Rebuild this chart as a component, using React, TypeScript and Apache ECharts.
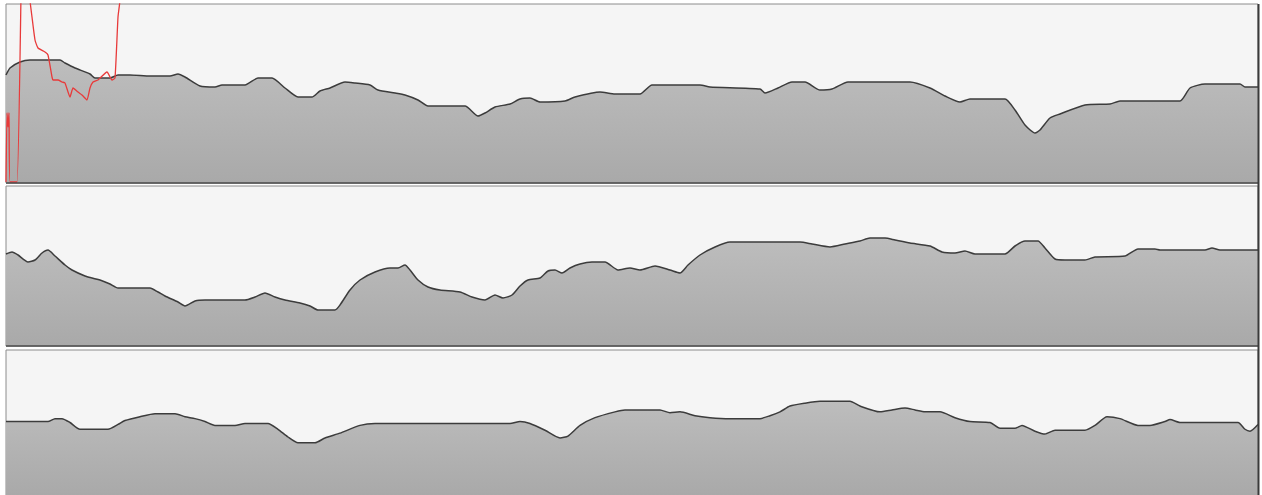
import React, { useEffect, useRef } from "react";
import * as echarts from "echarts";

// Panel 1 (top): grey level series
const t1 = [0, 4, 14, 24, 54, 59, 69, 84, 89, 104, 112, 124, 144, 164, 172, 179, 194, 209, 216, 239, 252, 266, 279, 292, 306, 314, 324, 339, 349, 364, 372, 389, 399, 412, 422, 459, 472, 479, 489, 504, 514, 524, 534, 559, 569, 594, 609, 634, 646, 694, 704, 754, 759, 772, 786, 799, 814, 826, 842, 904, 924, 939, 954, 964, 999, 1009, 1019, 1029, 1034, 1044, 1054, 1079, 1104, 1114, 1174, 1184, 1199, 1234, 1239, 1252];
const v1 = [107, 114, 120, 122, 122, 119, 114, 108, 104, 104, 107, 107, 106, 106, 108, 105, 96, 95, 97, 97, 104, 104, 94, 85, 85, 91, 94, 100, 99, 97, 92, 89, 87, 82, 76, 76, 66, 69, 75, 78, 83, 84, 80, 81, 85, 90, 88, 88, 97, 97, 95, 93, 89, 94, 100, 100, 92, 93, 100, 100, 94, 86, 80, 83, 83, 72, 57, 49, 52, 64, 68, 77, 78, 81, 81, 94, 98, 98, 95, 95];

// Panel 1 (top): red series (runs off the top)
const tRed = [0, 1, 2, 3, 4, 11, 16, 17, 23, 24, 26, 29, 32, 39, 42, 46, 47, 52, 56, 59, 64, 67, 72, 76, 81, 84, 87, 92, 101, 106, 109, 112, 114, 116];
const vRed = [0, 69, 55, 69, 0, 0, 250, 260, 240, 182, 165, 142, 134, 130, 127, 105, 102, 102, 100, 99, 85, 94, 90, 87, 82, 94, 100, 102, 110, 102, 104, 165, 182, 250];

// Panel 2 (middle)
const t2 = [0, 6, 12, 22, 29, 36, 42, 49, 59, 66, 79, 86, 94, 104, 112, 144, 152, 159, 172, 179, 189, 199, 239, 249, 259, 269, 279, 294, 304, 312, 329, 334, 344, 354, 369, 384, 392, 399, 404, 412, 422, 434, 454, 466, 479, 489, 497, 506, 514, 522, 534, 542, 549, 556, 564, 574, 586, 599, 612, 624, 634, 649, 664, 674, 682, 694, 709, 724, 794, 806, 824, 839, 854, 864, 879, 889, 904, 924, 936, 949, 959, 969, 999, 1009, 1019, 1032, 1039, 1049, 1059, 1079, 1089, 1119, 1132, 1149, 1154, 1199, 1206, 1214, 1252];
const v2 = [90, 92, 89, 82, 84, 91, 94, 88, 79, 74, 68, 66, 64, 60, 56, 56, 52, 48, 42, 38, 43, 44, 44, 47, 51, 47, 44, 41, 38, 34, 34, 39, 54, 64, 72, 76, 76, 79, 74, 64, 57, 54, 52, 47, 44, 49, 46, 49, 58, 64, 66, 73, 74, 71, 76, 80, 82, 82, 74, 76, 74, 78, 74, 71, 79, 89, 97, 102, 102, 100, 97, 100, 103, 106, 106, 104, 101, 98, 92, 91, 93, 90, 90, 98, 103, 103, 96, 85, 84, 84, 87, 88, 95, 95, 94, 94, 96, 94, 94];

// Panel 3 (bottom)
const t3 = [0, 42, 49, 56, 64, 74, 102, 112, 119, 134, 149, 169, 179, 189, 199, 209, 229, 239, 262, 272, 282, 292, 309, 319, 334, 354, 369, 504, 514, 524, 539, 554, 562, 574, 589, 609, 619, 654, 664, 674, 689, 704, 724, 754, 764, 774, 784, 799, 814, 844, 854, 874, 886, 899, 909, 919, 934, 949, 964, 984, 994, 1009, 1016, 1029, 1039, 1049, 1079, 1089, 1101, 1114, 1132, 1144, 1159, 1164, 1174, 1232, 1239, 1244, 1252];
const v3 = [71, 71, 74, 74, 70, 63, 63, 68, 72, 76, 79, 79, 76, 74, 71, 67, 67, 69, 69, 63, 55, 49, 49, 54, 59, 67, 69, 69, 71, 69, 62, 54, 56, 67, 75, 81, 83, 83, 80, 81, 77, 75, 74, 74, 77, 81, 87, 90, 92, 92, 87, 81, 83, 85, 83, 81, 81, 75, 71, 70, 64, 64, 67, 61, 58, 62, 62, 67, 76, 74, 67, 67, 71, 73, 70, 70, 63, 61, 68];

const zip = (xs: number[], ys: number[]) => xs.map((x, i) => [x, ys[i]]);

const areaFill = new echarts.graphic.LinearGradient(0, 0, 0, 1, [
  { offset: 0, color: "#bdbdbd" },
  { offset: 1, color: "#a9a9a9" },
]);

const greySeries = (idx: number, xs: number[], ys: number[]) => ({
  type: "line",
  xAxisIndex: idx,
  yAxisIndex: idx,
  data: zip(xs, ys),
  symbol: "none",
  smooth: 0.2,
  lineStyle: { color: "#3c3c3c", width: 1.5 },
  areaStyle: { color: areaFill, opacity: 1, origin: "start" },
  z: 2,
});

export default function App() {
  const ref = useRef<HTMLDivElement>(null);
  useEffect(() => {
    document.body.style.margin = "0";
    const chart = echarts.init(ref.current!, null, { renderer: "svg" });
    const grids = [
      { left: 6, top: 4, width: 1252, height: 179 },
      { left: 6, top: 186, width: 1252, height: 160 },
      { left: 6, top: 350, width: 1252, height: 150 },
    ];
    const yRanges = [
      [-1, 178],
      [-2, 158],
      [-5, 145],
    ];
    chart.setOption({
      animation: false,
      backgroundColor: "#ffffff",
      grid: grids.map((g) => ({
        ...g,
        show: true,
        backgroundColor: "#f5f5f5",
        borderColor: "#8c8c8c",
        borderWidth: 1,
      })),
      xAxis: grids.map((_, i) => ({
        type: "value",
        gridIndex: i,
        min: 0,
        max: 1252,
        show: false,
      })),
      yAxis: yRanges.map((r, i) => ({
        type: "value",
        gridIndex: i,
        min: r[0],
        max: r[1],
        show: false,
      })),
      series: [
        greySeries(0, t1, v1),
        {
          type: "line",
          xAxisIndex: 0,
          yAxisIndex: 0,
          data: zip(tRed, vRed),
          symbol: "none",
          smooth: 0.15,
          clip: true,
          lineStyle: { color: "#e83a3a", width: 1.3 },
          z: 3,
        },
        greySeries(1, t2, v2),
        greySeries(2, t3, v3),
      ],
      graphic: [
        { type: "line", shape: { x1: 6, y1: 183, x2: 1259, y2: 183 }, style: { stroke: "#4a4a4a", lineWidth: 1.5 }, z: 10 },
        { type: "line", shape: { x1: 6, y1: 346, x2: 1259, y2: 346 }, style: { stroke: "#4a4a4a", lineWidth: 1.5 }, z: 10 },
        { type: "line", shape: { x1: 1258.5, y1: 4, x2: 1258.5, y2: 495 }, style: { stroke: "#3a3a3a", lineWidth: 2 }, z: 10 },
      ],
    });
    return () => chart.dispose();
  }, []);
  return <div ref={ref} style={{ width: 1262, height: 495 }} />;
}
